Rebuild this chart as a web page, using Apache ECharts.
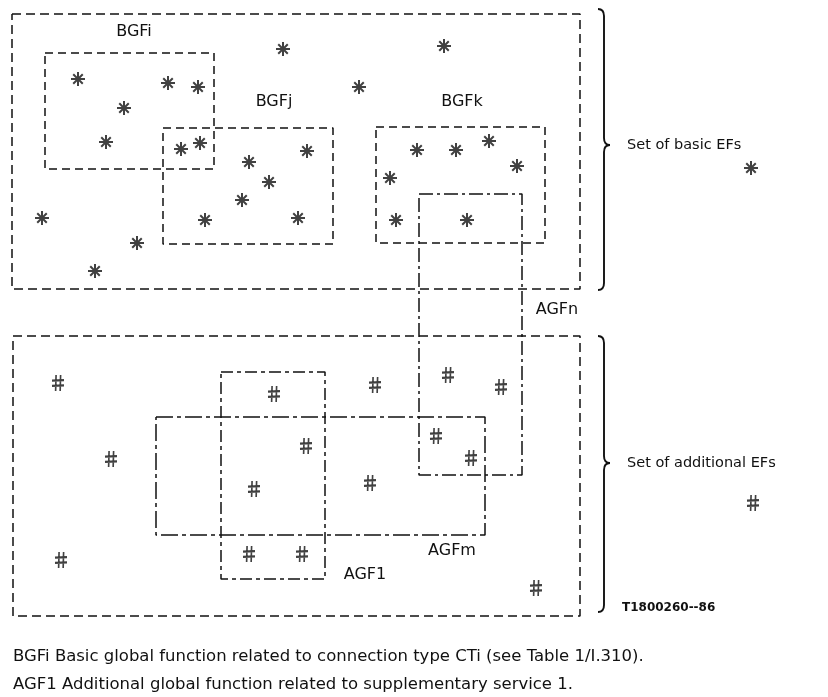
<!DOCTYPE html>
<html><head><meta charset="utf-8">
<script src="https://cdn.jsdelivr.net/npm/echarts@6/dist/echarts.min.js"></script>
<style>html,body{margin:0;padding:0;background:#fff}#c{width:828px;height:697px}</style>
</head><body><div id="c"></div>
<script>
// ---- data (diagram coordinates) ----
const basicEFs = [[283,49],[444,46],[359,87],[78,79],[168,83],[198,87],[124,108],[106,142],[181,149],[200,143],[249,162],[307,151],[269,182],[242,200],[205,220],[298,218],[42,218],[137,243],[95,271],[417,150],[456,150],[489,141],[517,166],[390,178],[396,220],[467,220]];
const additionalEFs = [[58,383],[274,394],[375,385],[448,375],[501,387],[111,459],[306,446],[436,436],[471,458],[254,489],[370,483],[61,560],[249,554],[302,554],[536,588]];
const boxNames = ['Set basic','BGFi','BGFj','BGFk','AGFn','Set additional','AGF1','AGFm'];
const boxRects = [[12,14,580,289],[45,53,214,169],[163,128,333,244],[376,127,545,243],[419,194,522,475],[13,336,580,616],[221,372,325,579],[156,417,485,535]];
const boxDash = [[9,5],[8,5],[8,5],[8,5],[14,4,3,4],[9,5],[12,4,4,4],[17,4,4,4]];
const braces = [[598,9,290,145],[598,336,612,463]]; // x, top, bottom, tip
const labelTexts = ['BGFi','BGFj','BGFk','AGFn','AGFm','AGF1','Set of basic EFs','Set of additional EFs','T1800260--86',
  'BGFi Basic global function related to connection type CTi (see Table 1/I.310).',
  'AGF1 Additional global function related to supplementary service 1.'];
const labelPos = [[134,32],[274,102],[462,102],[557,310],[452,551],[365,575],[627,145],[627,463],[622,608],[13,657],[13,685]];
const labelKind = ['c','c','c','c','c','c','l','l','s','cap','cap'];
const legendSymbols = [[751,168],[753,503]];

const STAR = 'path://M5 0 L5 10 M0 5 L10 5 M1.6 1.6 L8.4 8.4 M8.4 1.6 L1.6 8.4';
const HASH = 'path://M3.6 0 L3.2 13 M7.6 0 L7.2 13 M0 4.6 L10.6 4.2 M0 8.8 L10.6 8.4';
const INK = '#111';

const series = [];
boxRects.forEach((r, i) => {
  const [x1,y1,x2,y2] = r;
  series.push({
    type:'line', name: boxNames[i], silent:true, showSymbol:false, symbol:'none', animation:false,
    data:[[x1,y1],[x2,y1],[x2,y2],[x1,y2],[x1,y1]],
    lineStyle:{color:INK, width:1.5, type: boxDash[i]}
  });
});
const starStyle = {color:'rgba(0,0,0,0)', borderColor:INK, borderWidth:2};
const hashStyle = {color:'rgba(0,0,0,0)', borderColor:INK, borderWidth:1.9};
series.push({type:'scatter', name:'basic', data: basicEFs, symbol: STAR, symbolSize: 14, animation:false, itemStyle: starStyle});
series.push({type:'scatter', name:'additional', data: additionalEFs, symbol: HASH, symbolSize:[12,16], animation:false, itemStyle: hashStyle});
series.push({type:'scatter', name:'legendStar', data:[legendSymbols[0]], symbol: STAR, symbolSize: 14, animation:false, itemStyle: starStyle});
series.push({type:'scatter', name:'legendHash', data:[legendSymbols[1]], symbol: HASH, symbolSize:[12,16], animation:false, itemStyle: hashStyle});
series.push({
  type:'custom', name:'braces', data: braces, animation:false, silent:true,
  renderItem: function(params, api){
    const x = api.value(0);
    const top = api.coord([x, api.value(1)]);
    const bot = api.coord([x, api.value(2)]);
    const tip = api.coord([x, api.value(3)]);
    const bx = top[0] + 6, tx = top[0] + 12, r = 7;
    const st = {stroke:INK, lineWidth:1.9, fill:null};
    return {type:'group', children:[
      {type:'bezierCurve', shape:{x1:top[0], y1:top[1], cpx1:bx, cpy1:top[1], x2:bx, y2:top[1]+r}, style:st},
      {type:'line', shape:{x1:bx, y1:top[1]+r, x2:bx, y2:tip[1]-r}, style:st},
      {type:'bezierCurve', shape:{x1:bx, y1:tip[1]-r, cpx1:bx, cpy1:tip[1], x2:tx, y2:tip[1]}, style:st},
      {type:'bezierCurve', shape:{x1:tx, y1:tip[1], cpx1:bx, cpy1:tip[1], x2:bx, y2:tip[1]+r}, style:st},
      {type:'line', shape:{x1:bx, y1:tip[1]+r, x2:bx, y2:bot[1]-r}, style:st},
      {type:'bezierCurve', shape:{x1:bx, y1:bot[1]-r, cpx1:bx, cpy1:bot[1], x2:bot[0], y2:bot[1]}, style:st}
    ]};
  }
});
series.push({
  type:'custom', name:'texts', animation:false, silent:true,
  data: labelPos.map((p,i)=>[p[0],p[1],i]),
  renderItem: function(params, api){
    const i = api.value(2);
    const p = api.coord([api.value(0), api.value(1)]);
    const kind = labelKind[i];
    let font = '14.5px "DejaVu Sans", sans-serif', align = 'left', sx = 1;
    if (kind === 'c') { align = 'center'; font = '16px "DejaVu Sans", sans-serif'; }
    if (kind === 's') { font = 'bold 12px "DejaVu Sans", sans-serif'; }
    if (kind === 'cap') { font = '16px "DejaVu Sans", sans-serif'; sx = 1.03; }
    return {type:'text', x:p[0], y:p[1], scaleX: sx, style:{text: labelTexts[i], font: font, fill: INK, align: align, verticalAlign:'middle'}};
  }
});

const chart = echarts.init(document.getElementById('c'), null, {renderer:'canvas'});
chart.setOption({
  backgroundColor:'#fff',
  animation:false,
  grid:{left:0, right:0, top:0, bottom:0},
  xAxis:{type:'value', min:0, max:828, show:false},
  yAxis:{type:'value', min:0, max:697, inverse:true, show:false},
  series: series
});
</script></body></html>
